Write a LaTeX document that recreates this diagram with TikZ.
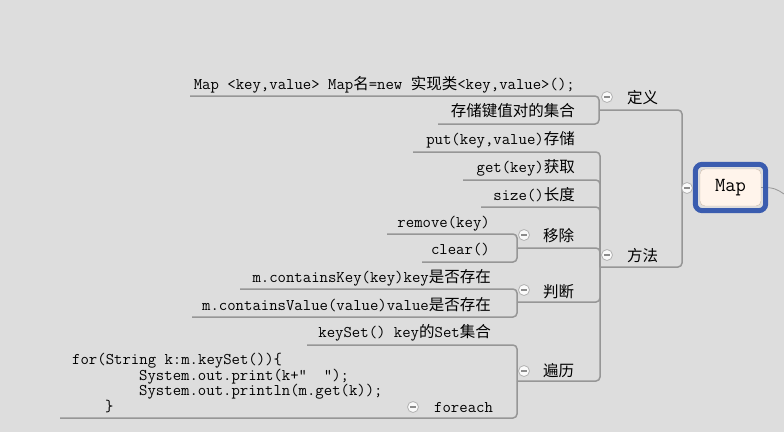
\documentclass[tikz,border=0pt]{standalone}
\usepackage{fontspec}
\newfontfamily\cjkf{Noto Sans CJK SC}
\newcommand\monof{\ttfamily}
\newcommand\cj[1]{{\cjkf\fontsize{15.5}{16}\selectfont #1}}
\definecolor{bgc}{RGB}{221,221,221}
\definecolor{linec}{RGB}{150,150,150}
\definecolor{mapblue}{RGB}{58,92,175}
\definecolor{mapfill}{RGB}{255,244,235}
\definecolor{mapedge}{RGB}{205,190,175}
\tikzset{
 conn/.style={draw=linec, line width=1.5pt, rounded corners=4pt},
 txt/.style={inner sep=0pt, anchor=base east, font=\monof\fontsize{16.3}{16}\selectfont},
 txtl/.style={inner sep=0pt, anchor=base west, font=\monof\fontsize{16.3}{16}\selectfont},
 cjt/.style={inner sep=0pt, anchor=base west, font=\cjkf\fontsize{15.5}{16}\selectfont},
 toggle/.style={circle, minimum size=11pt, inner sep=0pt, draw=gray!60, line width=0.8pt, fill=gray!4,
   path picture={\draw[gray!90, line width=1.2pt] ([xshift=-2.6pt]path picture bounding box.center) -- ([xshift=2.6pt]path picture bounding box.center);}},
}
\begin{document}
\begin{tikzpicture}[x=1pt,y=-1pt]
\fill[bgc] (0,0) rectangle (784,432);
\useasboundingbox (0,0) rectangle (784,432);

% junctions
\coordinate (jMap) at (682,188);
\coordinate (jDef) at (599,110);
\coordinate (jMeth) at (600,267);
\coordinate (jRm) at (517,248);
\coordinate (jJd) at (517,302);
\coordinate (jTr) at (517,381);
% underline left ends
\coordinate (uDecl) at (190,96);
\coordinate (uStore) at (438,124);
\coordinate (uPut) at (413,152);
\coordinate (uGet) at (463,180);
\coordinate (uSize) at (481,207);
\coordinate (uRemove) at (387,234);
\coordinate (uClear) at (422,262);
\coordinate (uKey) at (240,289);
\coordinate (uVal) at (192,317);
\coordinate (uKeySet) at (307,345);
\coordinate (uForeach) at (60,418);

% connectors
\foreach \c in {jDef,jMeth} \draw[conn] (jMap) |- (\c);
\foreach \c in {uDecl,uStore} \draw[conn] (jDef) |- (\c);
\foreach \c in {uPut,uGet,uSize,jRm,jJd,jTr} \draw[conn] (jMeth) |- (\c);
\foreach \c in {uRemove,uClear} \draw[conn] (jRm) |- (\c);
\foreach \c in {uKey,uVal} \draw[conn] (jJd) |- (\c);
\foreach \c in {uKeySet,uForeach} \draw[conn] (jTr) |- (\c);

% root
\node[draw=mapedge, fill=mapfill, rounded corners=5pt, minimum width=61pt, minimum height=37pt, inner sep=0pt, font=\monof\fontsize{20}{20}\selectfont] (map) at (730.5,187.5) {Map};
\coordinate (offr) at (784,194);
\draw[linec, line width=0.8pt] (map.east) .. controls (774,187) and (778,190) .. (offr);
\draw[mapblue, line width=5pt, rounded corners=7pt] ([shift={(-4.5,4.5)}]map.south west) rectangle ([shift={(4.5,-4.5)}]map.north east);

% texts
\node[txt] (decl) at (575,89) {Map <key,value> Map\cj{名}=new \cj{实现类}<key,value>();};
\node[txt] (store) at (575,116) {\cj{存储键值对的集合}};
\node[txt] (put) at (575,144) {put(key,value)\cj{存储}};
\node[txt] (get) at (575,172) {get(key)\cj{获取}};
\node[txt] (nsize) at (575,200) {size()\cj{长度}};
\node[txt] (remove) at (490,227) {remove(key)};
\node[txt] (clear) at (490,254) {clear()};
\node[txt] (ckey) at (491,282) {m.containsKey(key)key\cj{是否存在}};
\node[txt] (cval) at (491,310) {m.containsValue(value)value\cj{是否存在}};
\node[txt] (kset) at (491,337) {keySet() key\cj{的}Set\cj{集合}};
\node[txtl] (code1) at (72,364) {for(String k:m.keySet())\{};
\node[txtl] (code2) at (139,380) {System.out.print(k+“\ \ ”);};
\node[txtl] (code3) at (139,395.5) {System.out.println(m.get(k));};
\node[txtl] (code4) at (105,411) {\}};
\node[txtl] (foreach) at (434,412) {foreach};
\node[cjt] (def) at (627,103) {定义};
\node[cjt] (meth) at (627,261) {方法};
\node[cjt] (rm) at (543,241) {移除};
\node[cjt] (jd) at (543,297) {判断};
\node[cjt] (tr) at (543,376) {遍历};

% toggles
\node[toggle] (tMap) at (687,188) {};
\node[toggle] (tDef) at (607,97) {};
\node[toggle] (tMeth) at (607,255) {};
\node[toggle] (tRm) at (524,235) {};
\node[toggle] (tJd) at (524,290) {};
\node[toggle] (tTr) at (524,371) {};
\node[toggle] (tFe) at (413,407) {};
\end{tikzpicture}
\end{document}
